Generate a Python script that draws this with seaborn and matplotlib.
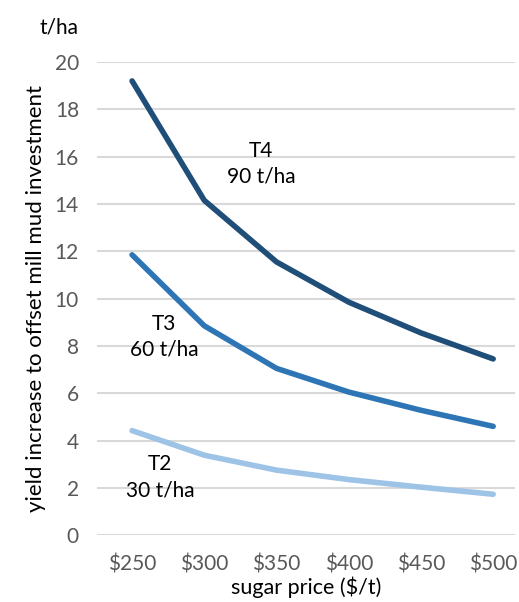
import matplotlib
matplotlib.use("Agg")
import matplotlib.pyplot as plt
import seaborn as sns
import pandas as pd

prices = ["$250", "$300", "$350", "$400", "$450", "$500"]
t4 = [19.2, 14.15, 11.55, 9.85, 8.55, 7.45]
t3 = [11.85, 8.85, 7.05, 6.05, 5.28, 4.6]
t2 = [4.42, 3.38, 2.75, 2.35, 2.03, 1.73]
series_names = ["T4", "T3", "T2"]
series_labels = ["T4\n90 t/ha", "T3\n60 t/ha", "T2\n30 t/ha"]
colors = ["#1F4E79", "#2E75B6", "#9DC3E6"]

sns.set_theme(style="white")
plt.rcParams["font.family"] = ["Lato", "DejaVu Sans"]

rows = []
for name, vals in zip(series_names, [t4, t3, t2]):
    for i, (p, v) in enumerate(zip(prices, vals)):
        rows.append({"series": name, "pos": i, "price": p, "value": v})
df = pd.DataFrame(rows)

fig = plt.figure(figsize=(5.19, 6.02), dpi=100)
ax = fig.add_axes([0.187, 0.111, 0.805, 0.786])

sns.lineplot(data=df, x="pos", y="value", hue="series", hue_order=series_names,
             palette=colors, linewidth=4, legend=False, ax=ax,
             solid_capstyle="round", solid_joinstyle="round")

ax.set_xlim(-0.485, 5.3)
ax.set_ylim(0, 20)
ax.set_yticks(range(0, 21, 2))
ax.set_xticks(range(len(prices)))
ax.set_xticklabels(prices)
ax.yaxis.grid(True, color="#D9D9D9", linewidth=1.5)
ax.set_axisbelow(True)
for s in ax.spines.values():
    s.set_visible(False)
ax.tick_params(axis="both", length=0, labelsize=15, labelcolor="#595959")
ax.tick_params(axis="x", pad=14)
ax.tick_params(axis="y", pad=13)

ax.set_xlabel("sugar price ($/t)", fontsize=15.5, color="#000000", labelpad=1)
ax.set_ylabel("yield increase to offset mill mud investment", fontsize=16, color="#000000", labelpad=6)

fig.text(40 / 519, 1 - 28 / 602, "t/ha", fontsize=15, ha="left", va="center", color="#000000")

label_pos = [(1.79, 15.7), (0.44, 8.37), (0.39, 2.45)]
for (x, y), lab in zip(label_pos, series_labels):
    ax.text(x, y, lab, ha="center", va="center", fontsize=15, color="#000000", linespacing=1.35)

fig.savefig("out.png", dpi=100)
